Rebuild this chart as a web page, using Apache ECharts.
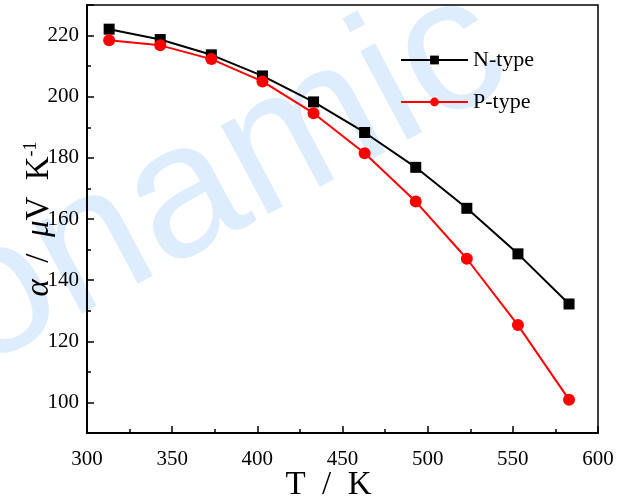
<!DOCTYPE html>
<html>
<head>
<meta charset="utf-8">
<script src="https://cdn.jsdelivr.net/npm/echarts@6/dist/echarts.min.js"></script>
<style>html,body{margin:0;padding:0;background:#fff}#c{width:629px;height:501px}</style>
</head>
<body>
<div id="c"></div>
<script>
var temps = [313, 343, 373, 403, 433, 463, 493, 523, 553, 583];
var nType = [222.1, 218.7, 213.7, 206.8, 198.3, 188.3, 176.9, 163.5, 148.6, 132.2];
var pType = [218.5, 216.8, 212.3, 205.0, 194.6, 181.5, 165.7, 147.0, 125.3, 100.9];
var seriesNames = ['N-type', 'P-type'];

var serif = '"Liberation Serif", "Times New Roman", serif';
var chart = echarts.init(document.getElementById('c'), null, {renderer: 'canvas'});

function pairs(xs, ys) { return xs.map(function (x, i) { return [x, ys[i]]; }); }

var option = {
  animation: false,
  backgroundColor: '#fff',
  graphic: [{
    type: 'text', z: -10, silent: true,
    x: -3, y: 407, rotation: 0.49,
    style: {
      text: 'onamic', fill: '#deedfd',
      font: '190px "Liberation Sans", Arial, sans-serif',
      textAlign: 'left', textVerticalAlign: 'bottom'
    }
  }],
  grid: {left: 87, right: 31, top: 5, bottom: 68, outerBoundsMode: 'none', containLabel: false,
    show: true, borderColor: '#000', borderWidth: 1.5, backgroundColor: 'transparent'},
  legend: {
    left: 400, top: 49, orient: 'vertical', itemGap: 20, padding: 0,
    itemWidth: 67, itemHeight: 11,
    textStyle: {fontFamily: serif, fontSize: 22, color: '#000', padding: [0, 0, 0, 0]},
    data: seriesNames
  },
  xAxis: [{
    type: 'value', min: 300, max: 600, interval: 50,
    name: 'T  /  K', nameLocation: 'middle', nameGap: 36, nameMoveOverlap: false,
    nameTextStyle: {fontFamily: serif, fontSize: 33, color: '#000', padding: [0, 28, 0, 0]},
    axisLine: {lineStyle: {color: '#000', width: 2}},
    axisTick: {inside: true, length: 7, lineStyle: {color: '#000', width: 1.5}},
    minorTick: {show: true, splitNumber: 2, length: 4, lineStyle: {color: '#000', width: 1.5}},
    axisLabel: {fontFamily: serif, fontSize: 21, color: '#000', margin: 16},
    splitLine: {show: false}
  }],
  yAxis: [{
    type: 'value', min: 90, max: 230, splitNumber: 7,
    name: '{i|α}  /  {i|μ}V  K{s|-1}', nameLocation: 'middle', nameGap: 30, nameRotate: 90,
    nameMoveOverlap: false,
    nameTextStyle: {
      fontFamily: serif, fontSize: 33, color: '#000',
      rich: {
        i: {fontFamily: serif, fontSize: 33, fontStyle: 'italic', color: '#000'},
        s: {fontFamily: serif, fontSize: 18, color: '#000', verticalAlign: 'top', padding: [0, 0, 17, 0]}
      }
    },
    axisLine: {lineStyle: {color: '#000', width: 2}},
    axisTick: {inside: true, length: 7, lineStyle: {color: '#000', width: 1.5}},
    axisLabel: {fontFamily: serif, fontSize: 21, color: '#000', margin: 8,
      formatter: function (v) { return (Math.round(v) % 20 === 0 && v > 95 && v < 225) ? String(Math.round(v)) : ''; }},
    splitLine: {show: false}
  }, {
    type: 'value', min: 90, max: 230, interval: 10, position: 'left',
    axisLine: {show: false},
    axisTick: {inside: true, length: 4, lineStyle: {color: '#000', width: 1.5}},
    axisLabel: {show: false},
    splitLine: {show: false}
  }],
  series: [{
    name: seriesNames[0], type: 'line', yAxisIndex: 0,
    data: pairs(temps, nType),
    symbol: 'rect', symbolSize: 11,
    lineStyle: {color: '#000', width: 2},
    itemStyle: {color: '#000'},
    z: 3
  }, {
    name: seriesNames[1], type: 'line', yAxisIndex: 0,
    data: pairs(temps, pType),
    symbol: 'circle', symbolSize: 12,
    lineStyle: {color: '#ff0000', width: 2},
    itemStyle: {color: '#ff0000'},
    z: 4
  }]
};
chart.setOption(option);
</script>
</body>
</html>
